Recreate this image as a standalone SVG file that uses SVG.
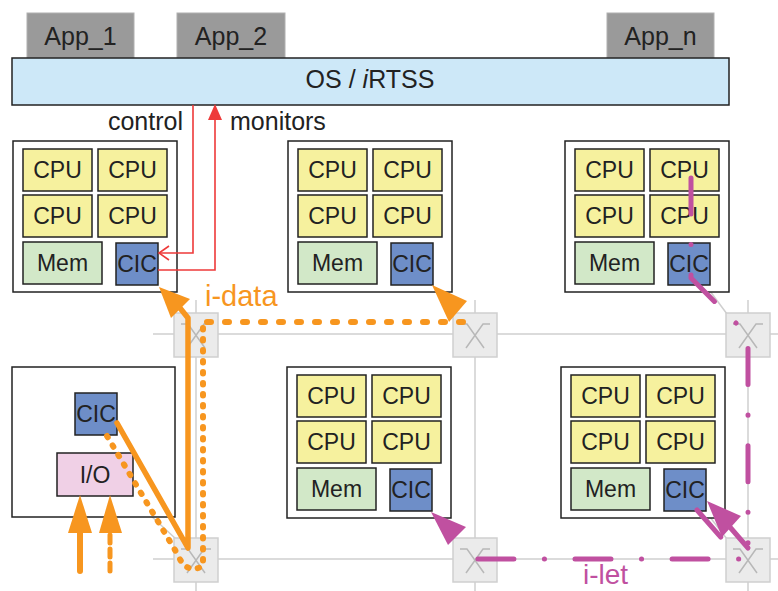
<svg xmlns="http://www.w3.org/2000/svg" width="778" height="591" viewBox="0 0 778 591">
  <style>
    text { font-family: "Liberation Sans", Arial, sans-serif; fill: #222; }
    .app { fill: #9a9a9a; stroke: #b0b0b0; stroke-width: 1; }
    .apptxt { font-size: 25px; text-anchor: middle; }
    .os { fill: #cde8f8; stroke: #222; stroke-width: 1.5; }
    .frame { fill: #fff; stroke: #222; stroke-width: 1.5; }
    .cpu { fill: #f6f19e; stroke: #222; stroke-width: 1.5; }
    .mem { fill: #d2e8c8; stroke: #222; stroke-width: 1.5; }
    .cic { fill: #6e8ec8; stroke: #222; stroke-width: 1.5; }
    .io { fill: #f0d0e6; stroke: #222; stroke-width: 1.5; }
    .lbl { font-size: 23px; text-anchor: middle; }
    .grid { stroke: #cfcfcf; stroke-width: 1.5; fill: none; }
    .router { fill: #ebebeb; stroke: #cfcfcf; stroke-width: 1.5; }
    .xsym { fill: none; stroke: #b8b8b8; stroke-width: 1.5; }
    .red { fill: none; stroke: #ee3a3a; stroke-width: 1.6; }
    .orange { fill: none; stroke: #f7961f; stroke-linecap: round; stroke-linejoin: round; }
    .ofill { fill: #f7961f; }
    .magenta { fill: none; stroke: #c050a0; stroke-width: 5; stroke-linecap: round; stroke-linejoin: round; }
    .mfill { fill: #c050a0; }
    .dashdot { stroke-dasharray: 36 30.5 0.1 30.5; }
  </style>
  <defs>
    <!-- compute node: four CPUs, memory and the CIC -->
    <g id="cnode">
      <rect class="frame" x="0" y="0" width="164" height="151"/>
      <rect class="cpu" x="10" y="8" width="69" height="42"/>
      <rect class="cpu" x="85" y="8" width="69" height="42"/>
      <rect class="cpu" x="10" y="54" width="69" height="42"/>
      <rect class="cpu" x="85" y="54" width="69" height="42"/>
      <rect class="mem" x="10" y="101" width="79" height="42"/>
      <rect class="cic" x="103" y="102" width="42" height="42"/>
      <text class="lbl" x="44.5" y="37">CPU</text>
      <text class="lbl" x="119.5" y="37">CPU</text>
      <text class="lbl" x="44.5" y="83">CPU</text>
      <text class="lbl" x="119.5" y="83">CPU</text>
      <text class="lbl" x="49.5" y="130">Mem</text>
      <text class="lbl" x="124" y="131">CIC</text>
    </g>
    <!-- router: grey box with a crossbar symbol -->
    <g id="rtr">
      <rect class="router" x="-22" y="-22" width="44" height="44"/>
      <path class="xsym" d="M-15,-11 H-8 L9,13 M15,-11 H8 L-9,13"/>
    </g>
  </defs>

  <!-- applications -->
  <g id="app1"><rect class="app" x="27" y="13" width="107" height="45"/><text class="apptxt" x="80.5" y="45">App_1</text></g>
  <g id="app2"><rect class="app" x="177" y="13" width="108" height="45"/><text class="apptxt" x="231" y="45">App_2</text></g>
  <g id="appn"><rect class="app" x="607" y="13" width="107" height="45"/><text class="apptxt" x="660.5" y="45">App_n</text></g>

  <!-- operating system layer -->
  <g id="os">
    <rect class="os" x="12" y="58" width="717" height="47"/>
    <text x="370" y="88" font-size="25" text-anchor="middle">OS / <tspan font-style="italic">i</tspan>RTSS</text>
  </g>

  <!-- mesh links -->
  <g id="mesh">
    <path class="grid" d="M153,334 H778 M153,559 H778 M196,300 V591 M475,300 V591 M748,300 V591"/>
    <path class="grid" d="M158,287 L176,314 M432,287 L454,314 M707,287 L727,314 M150,515 L176,539 M431,512 L454,539 M706,512 L727,539"/>
  </g>

  <!-- compute nodes -->
  <g id="node-tl"><use href="#cnode" x="13" y="141"/></g>
  <g id="node-tm"><use href="#cnode" x="288" y="141"/></g>
  <g id="node-tr"><use href="#cnode" x="565" y="141"/></g>
  <g id="node-bm"><use href="#cnode" x="287" y="367"/></g>
  <g id="node-br"><use href="#cnode" x="561" y="367"/></g>

  <!-- I/O node -->
  <g id="node-io">
    <rect class="frame" x="12" y="367" width="163" height="150"/>
    <rect class="cic" x="75" y="393" width="42" height="42"/>
    <text class="lbl" x="96" y="422">CIC</text>
    <rect class="io" x="57" y="453" width="76" height="43"/>
    <text class="lbl" x="95" y="483">I/O</text>
  </g>

  <!-- routers -->
  <g id="router-1"><use href="#rtr" x="196" y="335"/></g>
  <g id="router-2"><use href="#rtr" x="475" y="335"/></g>
  <g id="router-3"><use href="#rtr" x="748" y="335"/></g>
  <g id="router-4"><use href="#rtr" x="196" y="560"/></g>
  <g id="router-5"><use href="#rtr" x="475" y="560"/></g>
  <g id="router-6"><use href="#rtr" x="748" y="560"/></g>

  <g id="connectors">
    <!-- control / monitoring between OS and the CIC -->
    <path class="red" d="M193,105 V253 H160"/>
    <polyline class="red" points="169,246 159,253 169,260"/>
    <path class="red" d="M158,270 H215 V118"/>
    <polygon points="215,104 208,120 222,120" fill="#ee3a3a"/>
    <text x="183" y="130" font-size="25" text-anchor="end">control</text>
    <text x="230" y="130" font-size="25">monitors</text>

    <!-- i-data: I/O inputs -->
    <line class="orange" x1="80" y1="571" x2="80" y2="530" stroke-width="6"/>
    <polygon class="ofill" points="80,495 92,533 68,533"/>
    <line class="orange" x1="110" y1="571" x2="110" y2="530" stroke-width="5" stroke-dasharray="8 6" stroke-linecap="butt"/>
    <polygon class="ofill" points="110,495 122,533 99,533"/>

    <!-- i-data: solid route to the top-left node -->
    <path class="orange" stroke-width="5.5" d="M117,423 L188,548 L188,318 L180,308"/>
    <polygon class="ofill" points="159,287 190,299 171,318"/>

    <!-- i-data: dotted route to the top-middle node -->
    <path class="orange" stroke-width="6" stroke-dasharray="1.5 9.5" d="M107,436 L178,555 Q186,575 203,566 L203,322"/>
    <path class="orange" stroke-width="6" stroke-dasharray="4 14" d="M207,322 H467"/>
    <polygon class="ofill" points="432,285 467,301 449,322"/>
    <text x="205" y="306" font-size="29" style="fill:#f7961f">i-data</text>

    <!-- i-let: from the top-right node to the bottom-right node -->
    <path class="magenta dashdot" d="M691,178 V278 L748,335 V543"/>
    <line class="magenta" x1="748" y1="548" x2="729" y2="526"/>
    <polygon class="mfill" points="707,501 741,516 722,537"/>

    <!-- i-let: from the bottom-right node to the bottom-middle node -->
    <path class="magenta dashdot" d="M697,510 L740,559 H477"/>
    <polygon class="mfill" points="431,512 466,527 448,545"/>
    <text x="583" y="584" font-size="28" style="fill:#c050a0">i-let</text>
  </g>
</svg>
